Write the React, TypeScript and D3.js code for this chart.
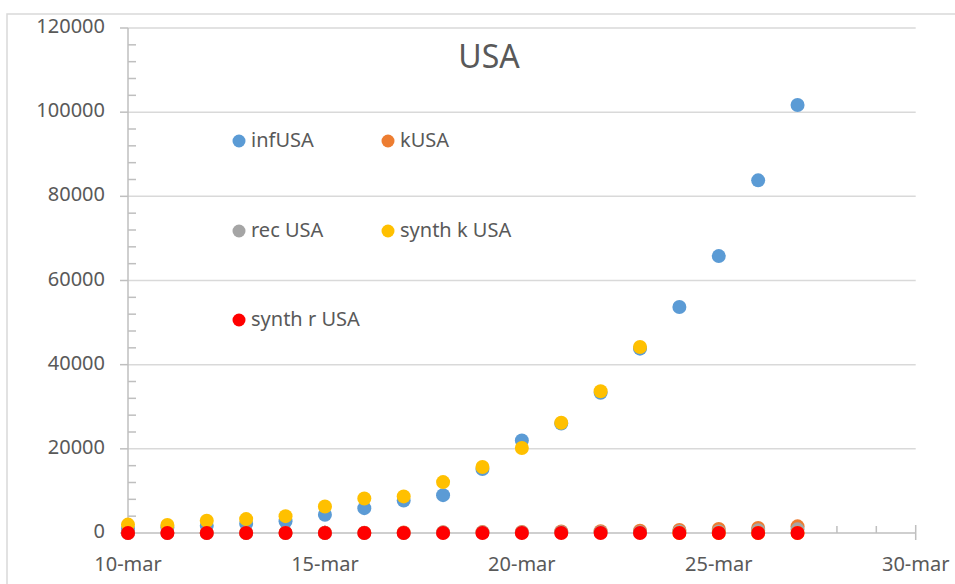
import * as d3 from 'd3'

// days shown (March 2020)
const days = [10, 11, 12, 13, 14, 15, 16, 17, 18, 19, 20, 21, 22, 23, 24, 25, 26, 27]

const infUSA = [1000, 1300, 1700, 2200, 2800, 4350, 5900, 7700, 9000, 15200, 22000, 26000, 33300, 43800, 53700, 65800, 83800, 101700]
const kUSA = [30, 38, 41, 48, 57, 68, 87, 110, 150, 210, 260, 340, 420, 560, 710, 940, 1210, 1580]
const recUSA = [8, 8, 12, 12, 12, 17, 17, 17, 106, 108, 147, 171, 178, 178, 348, 361, 681, 869]
const synthK = [2000, 1900, 2900, 3300, 4000, 6300, 8200, 8700, 12100, 15700, 20200, 26200, 33700, 44200, 0, 0, 0, 0]
const synthR = [0, 0, 0, 0, 0, 0, 0, 0, 0, 0, 0, 0, 0, 0, 0, 0, 0, 0]

const seriesNames = ['infUSA', 'kUSA', 'rec USA', 'synth k USA', 'synth r USA']
const seriesColors = ['#5B9BD5', '#ED7D31', '#A5A5A5', '#FFC000', '#FF0000']
const seriesValues = [infUSA, kUSA, recUSA, synthK, synthR]

const yTicks = [0, 20000, 40000, 60000, 80000, 100000, 120000]
const xTickDays = [10, 15, 20, 25, 30]

const W = 955
const H = 584
const font = '"Noto Sans", "Open Sans", sans-serif'
const textColor = '#595959'
const gridColor = '#d9d9d9'

const date = (d: number) => new Date(2020, 2, d)

export default function App() {
  const x = d3.scaleTime().domain([date(10), date(30)]).range([128, 915.7])
  const y = d3.scaleLinear().domain([0, 120000]).range([533, 28])

  const minorY = d3.range(0, 120001, 4000).filter((v) => v % 20000 !== 0)
  const minorX = d3.timeDay.range(date(10), date(31)).filter((d) => !xTickDays.includes(d.getDate()))

  // legend layout: two columns, three rows
  const legendPos = (i: number) => ({ lx: i % 2 === 0 ? 239 : 388, ly: [141, 231, 320][Math.floor(i / 2)] })

  return (
    <svg width={W} height={H} style={{ position: 'absolute', left: 0, top: 0, background: '#fff' }}>
      <rect x={7} y={14} width={W} height={H} fill="#fff" stroke={gridColor} strokeWidth={1.5} />

      {/* gridlines */}
      {yTicks.slice(1).map((v) => (
        <line key={v} x1={128} x2={915.7} y1={y(v)} y2={y(v)} stroke={gridColor} strokeWidth={1.5} />
      ))}

      {/* y axis */}
      <line x1={128} x2={128} y1={y(120000)} y2={y(0)} stroke="#bfbfbf" strokeWidth={1.5} />
      {yTicks.map((v) => (
        <g key={v}>
          <line x1={120} x2={128} y1={y(v)} y2={y(v)} stroke="#bfbfbf" strokeWidth={1.5} />
          <text x={105} y={y(v) + 5} textAnchor="end" fontFamily={font} fontSize={20} fill={textColor}>
            {v}
          </text>
        </g>
      ))}
      {minorY.map((v) => (
        <line key={v} x1={128} x2={136} y1={y(v)} y2={y(v)} stroke="#bfbfbf" strokeWidth={1.5} />
      ))}

      {/* x axis */}
      <line x1={128} x2={915.7} y1={y(0)} y2={y(0)} stroke="#bfbfbf" strokeWidth={1.5} />
      {minorX.map((d) => (
        <line key={+d} x1={x(d)} x2={x(d)} y1={y(0) - 7} y2={y(0)} stroke="#bfbfbf" strokeWidth={1.5} />
      ))}
      {xTickDays.map((dd) => (
        <g key={dd}>
          <line x1={x(date(dd))} x2={x(date(dd))} y1={y(0) - 8} y2={y(0) + 7} stroke="#bfbfbf" strokeWidth={1.5} />
          <text x={x(date(dd))} y={571} textAnchor="middle" fontFamily={font} fontSize={20} fill={textColor}>
            {`${dd}-mar`}
          </text>
        </g>
      ))}

      {/* points */}
      {seriesValues.map((vals, si) => (
        <g key={si} fill={seriesColors[si]}>
          {vals.map((v, i) => (
            <circle key={i} cx={x(date(days[i]))} cy={y(v)} r={7} />
          ))}
        </g>
      ))}

      {/* title */}
      <text x={489} y={68} textAnchor="middle" fontFamily={font} fontSize={32} fill={textColor}>
        USA
      </text>

      {/* legend */}
      {seriesNames.map((name, i) => {
        const { lx, ly } = legendPos(i)
        return (
          <g key={name}>
            <circle cx={lx} cy={ly} r={6.5} fill={seriesColors[i]} />
            <text x={lx + 12} y={ly + 6} fontFamily={font} fontSize={20} fill={textColor}>
              {name}
            </text>
          </g>
        )
      })}
    </svg>
  )
}
